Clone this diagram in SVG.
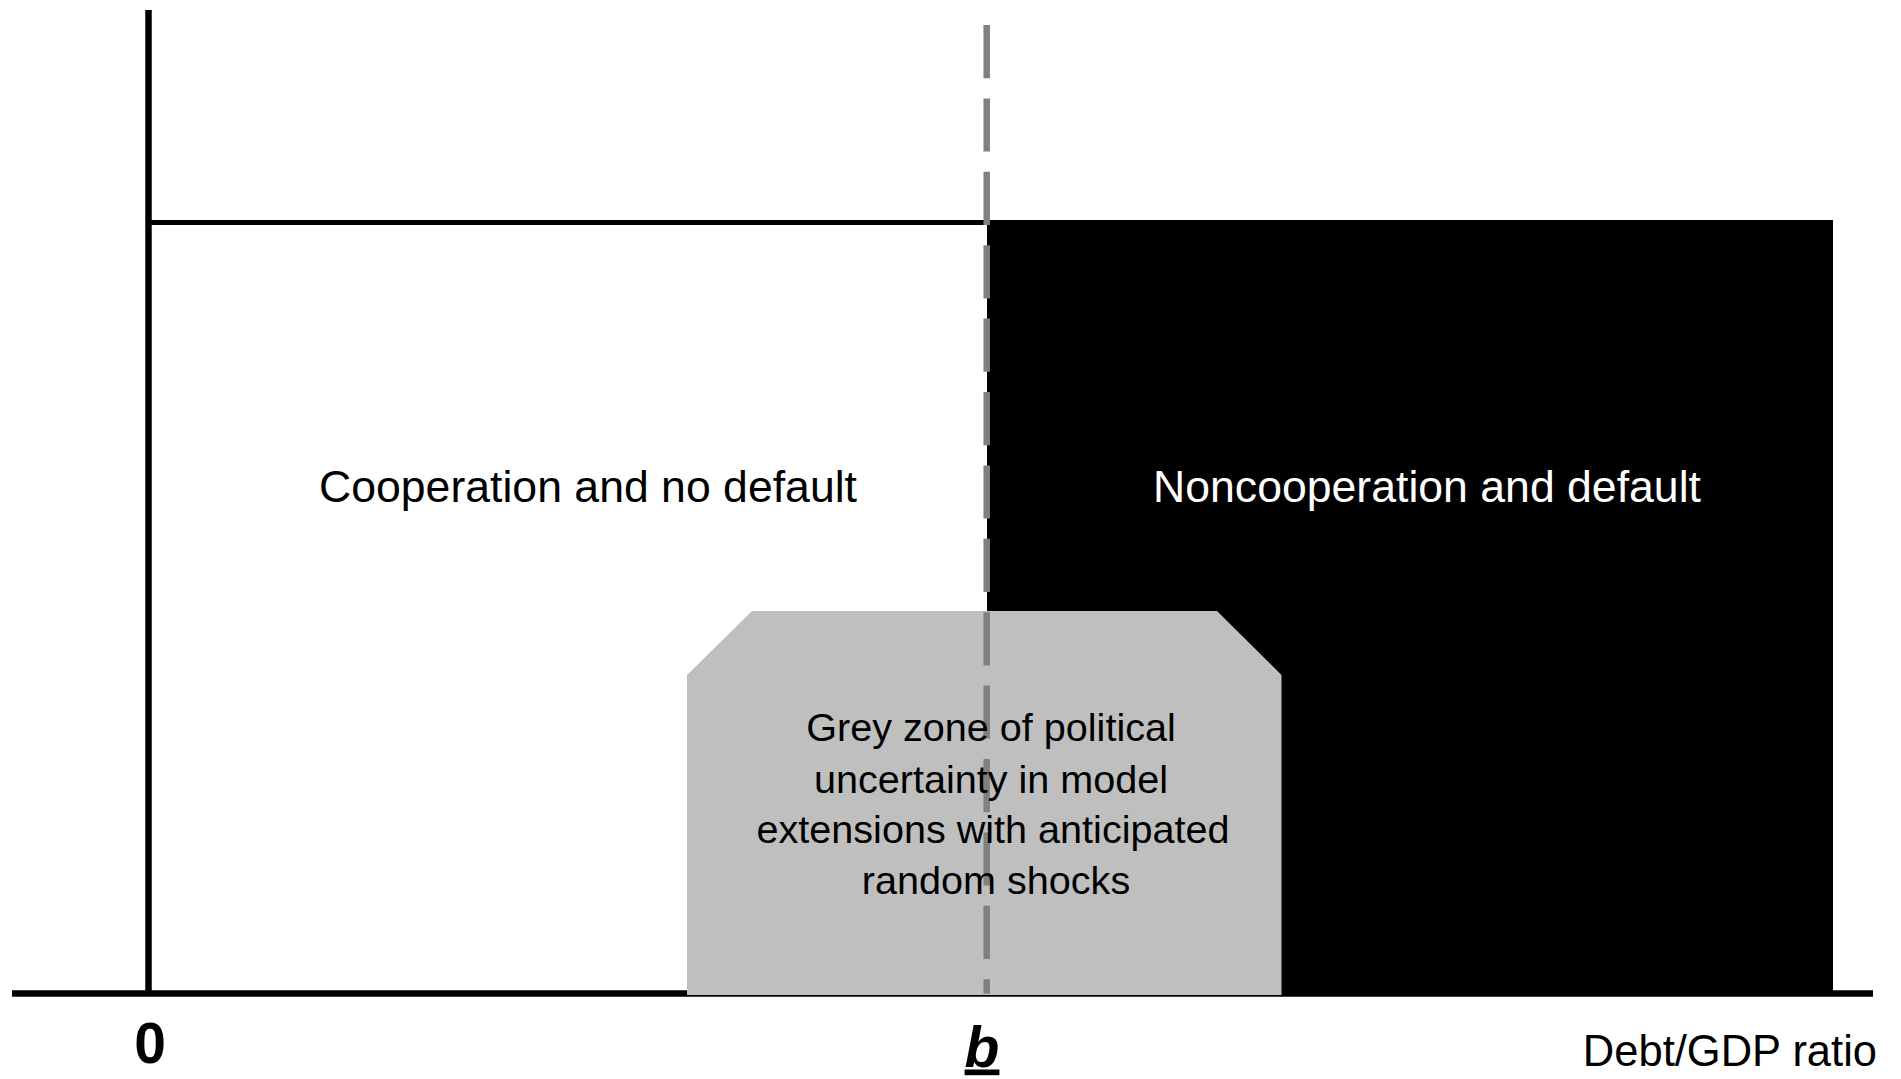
<svg xmlns="http://www.w3.org/2000/svg" width="1901" height="1079" viewBox="0 0 1901 1079">
  <style>
    .axis { stroke: #000000; stroke-width: 6.5; fill: none; }
    .thin { stroke: #000000; stroke-width: 5; fill: none; }
    .dash { stroke: #808080; stroke-width: 6.5; stroke-dasharray: 53.2 20.2; fill: none; }
    .lbl { font-family: "Liberation Sans", Arial, sans-serif; fill: #000000; }
    .big { font-size: 44.6px; text-anchor: middle; }
    .grey { font-size: 39.6px; text-anchor: middle; }
    .tick { font-size: 57px; font-weight: bold; text-anchor: middle; }
  </style>
  <rect x="0" y="0" width="1901" height="1079" fill="#ffffff"/>
  <g id="axes">
    <line class="axis" x1="148.5" y1="10" x2="148.5" y2="994"/>
    <line class="axis" x1="12" y1="993.5" x2="1873" y2="993.5"/>
    <line class="thin" x1="148" y1="222.5" x2="988" y2="222.5"/>
  </g>
  <g id="node-cooperation">
    <text class="lbl big" x="588" y="502">Cooperation and no default</text>
  </g>
  <g id="node-noncooperation">
    <rect x="987" y="220" width="846" height="774" fill="#000000"/>
    <text class="lbl big" x="1427" y="502" style="fill:#ffffff">Noncooperation and default</text>
  </g>
  <g id="node-greyzone">
    <polygon points="687,675 752,611 1217,611 1281.5,675 1281.5,995 687,995" fill="#bfbfbf"/>
  </g>
  <g id="connectors">
    <line class="dash" x1="986.7" y1="25" x2="986.7" y2="993.5"/>
  </g>
  <g id="node-greyzone-text">
    <text class="lbl grey" x="991" y="741">Grey zone of political</text>
    <text class="lbl grey" x="991" y="793">uncertainty in model</text>
    <text class="lbl grey" x="993" y="843">extensions with anticipated</text>
    <text class="lbl grey" x="996" y="894">random shocks</text>
  </g>
  <g id="axis-labels">
    <text class="lbl tick" x="150" y="1063">0</text>
    <text class="lbl tick" x="982" y="1066.5" font-style="italic" text-decoration="underline">b</text>
    <text class="lbl" x="1877" y="1066" font-size="43.5" text-anchor="end">Debt/GDP ratio</text>
  </g>
</svg>
